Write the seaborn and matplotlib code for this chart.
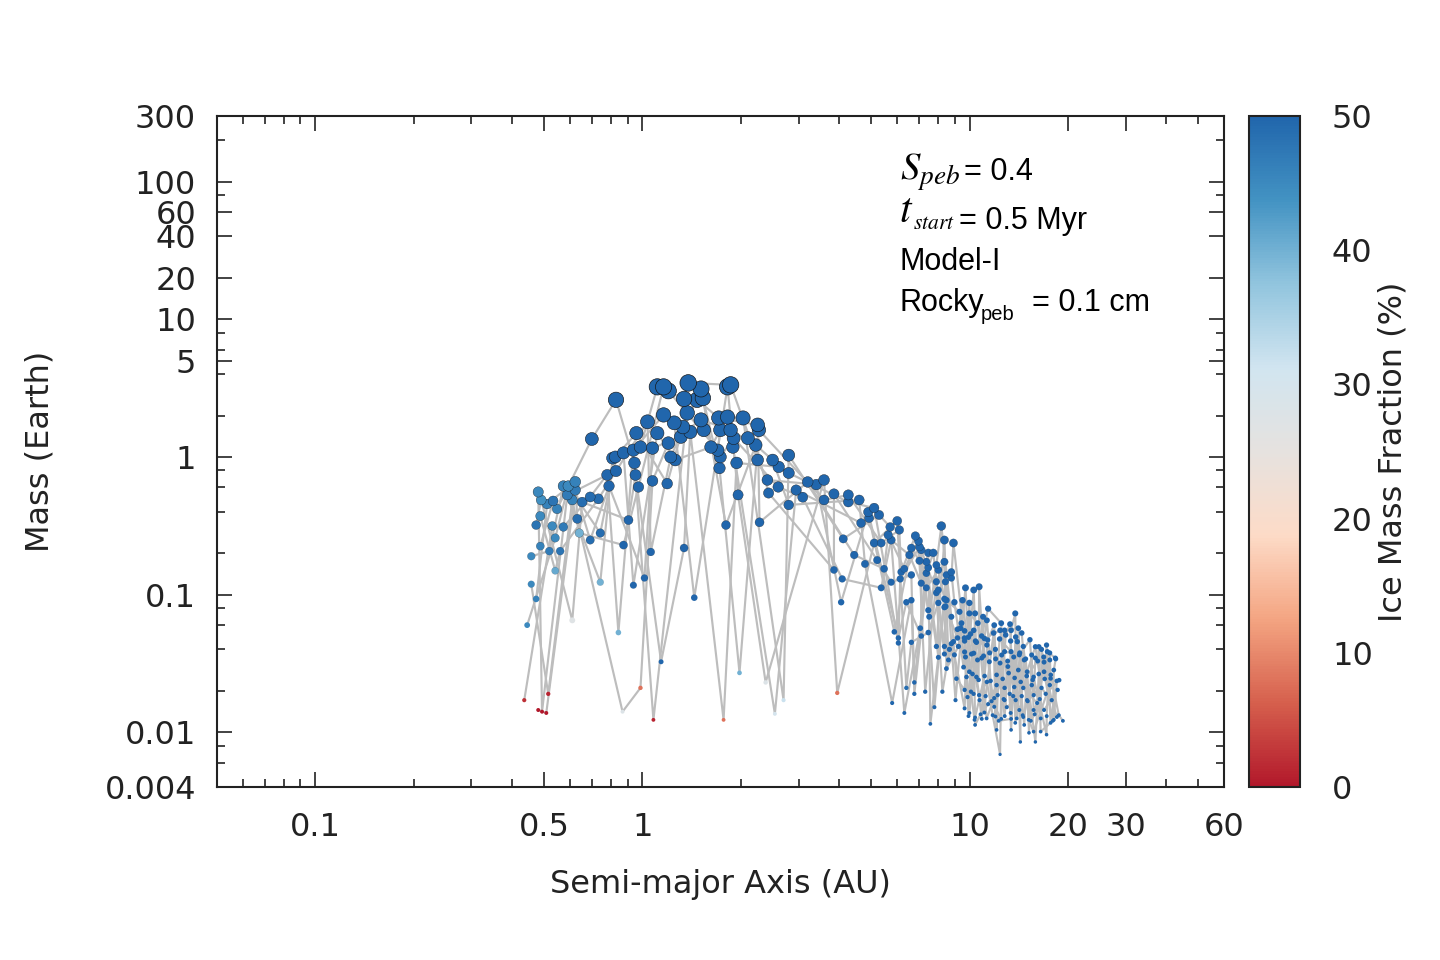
import numpy as np
import pandas as pd
import matplotlib
matplotlib.use("Agg")
import matplotlib.pyplot as plt
import seaborn as sns
from matplotlib.colors import LinearSegmentedColormap, Normalize
from matplotlib.ticker import FixedLocator, FixedFormatter, LogLocator, NullFormatter
import matplotlib.cm as cm

# ---------------- data ----------------
# inner region (0.43 - 0.75 AU)
a_inner = [0.435, 0.444, 0.457, 0.457, 0.473, 0.473, 0.48, 0.48, 0.487, 0.487,
           0.49, 0.493, 0.508, 0.511, 0.515, 0.519, 0.53, 0.533, 0.541, 0.541,
           0.548, 0.56, 0.573, 0.573, 0.589, 0.593, 0.61, 0.61, 0.623, 0.623,
           0.632, 0.641, 0.654, 0.692, 0.692, 0.70, 0.733, 0.743, 0.743]
m_inner = [0.0171, 0.060, 0.19, 0.119, 0.093, 0.32, 0.0145, 0.557, 0.372, 0.225,
           0.487, 0.0141, 0.0138, 0.455, 0.019, 0.207, 0.315, 0.479, 0.258, 0.149,
           0.419, 0.207, 0.31, 0.615, 0.53, 0.615, 0.487, 0.065, 0.66, 0.575,
           0.355, 0.28, 0.47, 0.512, 0.249, 1.35, 0.496, 0.28, 0.123]
ice_inner = [2, 45, 45, 45, 46, 48, 0, 45, 45, 46,
             44, 0, 0, 46, 1, 47, 45, 48, 45, 41,
             46, 48, 47, 46, 47, 45, 46, 27, 46, 47,
             49, 40, 49, 49, 49, 50, 49, 49, 40]

# middle region (0.78 - 1.5 AU)
a_mid = [0.78, 0.79, 0.81, 0.826, 0.83, 0.83, 0.844, 0.869, 0.875, 0.875,
         0.906, 0.938, 0.938, 0.945, 0.952, 0.958, 0.972, 0.986, 0.986, 1.014,
         1.036, 1.06, 1.073, 1.073, 1.08, 1.11, 1.11, 1.14, 1.16, 1.16,
         1.19, 1.20, 1.20, 1.22, 1.25, 1.26, 1.31, 1.33, 1.34, 1.34,
         1.37, 1.38, 1.40, 1.44, 1.47, 1.51, 1.51]
m_mid = [0.74, 0.615, 0.98, 1.0, 0.79, 2.6, 0.053, 0.0141, 1.07, 0.229,
         0.348, 1.12, 0.117, 0.905, 0.74, 1.49, 0.605, 1.18, 0.021, 0.132,
         1.80, 0.204, 1.16, 0.67, 0.0123, 3.23, 1.49, 0.0325, 3.23, 2.02,
         0.64, 3.02, 1.26, 1.0, 1.77, 0.95, 1.40, 1.65, 2.64, 0.218,
         2.09, 3.45, 1.52, 0.095, 2.60, 3.12, 1.86]
ice_mid = [50, 50, 50, 50, 50, 50, 40, 28, 50, 50,
           50, 50, 50, 50, 50, 50, 50, 50, 8, 50,
           50, 50, 50, 50, 1, 50, 50, 50, 50, 50,
           50, 50, 50, 50, 50, 50, 50, 50, 50, 50,
           50, 50, 50, 50, 50, 50, 50]

# belt region (1.5 - 4.7 AU)
a_belt = [1.53, 1.54, 1.62, 1.70, 1.71, 1.72, 1.73, 1.73, 1.77, 1.80,
          1.82, 1.82, 1.86, 1.86, 1.89, 1.90, 1.94, 1.96, 1.98, 2.03,
          2.10, 2.22, 2.25, 2.25, 2.27, 2.28, 2.38, 2.41, 2.43, 2.50,
          2.54, 2.60, 2.61, 2.70, 2.80, 2.80, 2.80, 2.95, 3.09, 3.20,
          3.40, 3.59, 3.59, 3.85, 3.85, 3.94, 4.05, 4.08, 4.11, 4.26,
          4.26, 4.44, 4.60, 4.66]
m_belt = [2.68, 1.57, 1.18, 1.12, 1.92, 0.83, 1.57, 1.0, 0.0123, 0.32,
          3.23, 1.95, 3.34, 1.57, 1.18, 1.37, 0.905, 0.53, 0.027, 1.92,
          1.37, 1.22, 1.71, 0.95, 1.57, 0.335, 0.023, 0.68, 0.547, 0.95,
          0.0136, 0.605, 0.846, 0.0171, 1.03, 0.765, 0.448, 0.575, 0.51, 0.658,
          0.63, 0.68, 0.487, 0.539, 0.151, 0.0193, 0.088, 0.13, 0.254, 0.53,
          0.47, 0.194, 0.487, 0.331]
ice_belt = [50, 50, 50, 50, 50, 50, 50, 50, 8, 50,
            50, 50, 50, 50, 50, 50, 50, 50, 40, 50,
            50, 50, 50, 50, 50, 50, 28, 50, 50, 50,
            30, 50, 50, 32, 50, 50, 50, 50, 50, 50,
            50, 50, 50, 50, 50, 8, 50, 50, 50, 50,
            50, 50, 50, 50]

# outer region (4.8 - 19.3 AU)
a_outer = [4.79, 4.90, 4.93, 5.11, 5.11, 5.22, 5.29, 5.37, 5.37, 5.48,
           5.64, 5.72, 5.76, 5.76, 5.80, 5.89, 6.01, 6.06, 6.06, 6.10,
           6.14, 6.18, 6.32, 6.32, 6.41, 6.41, 6.55, 6.64, 6.64, 6.64,
           6.64, 6.78, 6.78, 6.83, 6.98, 7.03, 7.03, 7.07, 7.12, 7.12,
           7.12, 7.32, 7.38, 7.38, 7.38, 7.48, 7.48, 7.48, 7.48, 7.53,
           7.59, 7.75, 7.81, 7.92, 7.92, 7.92, 7.92, 8.03, 8.03, 8.03,
           8.03, 8.20, 8.26, 8.38, 8.38, 8.38, 8.38, 8.38, 8.38, 8.44,
           8.44, 8.50, 8.50, 8.50, 8.62, 8.68, 8.80, 8.80, 8.80, 8.80,
           8.93, 8.93, 8.99, 8.99, 9.06, 9.12, 9.19, 9.19, 9.25, 9.32,
           9.39, 9.45, 9.52, 9.59, 9.66, 9.66, 9.66, 9.66, 9.66, 9.72,
           9.92, 9.99, 9.99, 9.99, 9.99, 10.1, 10.3, 10.3, 10.3, 10.4,
           10.4, 10.4, 10.5, 10.5, 10.6, 10.7, 10.7, 10.9, 10.9, 11.0,
           11.1, 11.1, 11.3, 11.3, 11.3, 11.4, 11.4, 11.5, 11.9, 11.9,
           11.9, 12.0, 12.0, 12.1, 12.1, 12.4, 12.4, 12.4, 12.5, 12.5,
           12.8, 12.8, 12.8, 12.8, 13.0, 13.1, 13.3, 13.4, 13.4, 13.4,
           13.4, 13.6, 13.7, 13.8, 13.8, 14.0, 14.1, 14.1, 14.2, 14.2,
           14.3, 14.6, 14.6, 14.6, 14.7, 14.7, 15.0, 15.0, 15.2, 15.3,
           15.4, 15.5, 15.7, 15.7, 15.7, 15.9, 15.9, 15.9, 16.1, 16.3,
           16.5, 16.6, 16.6, 16.9, 16.9, 16.9, 17.2, 17.2, 17.3, 17.6,
           17.6, 17.7, 17.7, 18.1, 18.1, 18.3, 18.5, 18.6, 18.8, 19.3]
m_outer = [0.167, 0.398, 0.36, 0.426, 0.237, 0.178, 0.379, 0.237, 0.112, 0.154,
           0.271, 0.31, 0.249, 0.123, 0.0163, 0.0536, 0.343, 0.0484, 0.0445, 0.295,
           0.13, 0.146, 0.154, 0.0138, 0.088, 0.021, 0.194, 0.218, 0.139, 0.091,
           0.045, 0.023, 0.019, 0.267, 0.245, 0.222, 0.176, 0.057, 0.211, 0.121,
           0.05, 0.0197, 0.173, 0.143, 0.112, 0.201, 0.157, 0.077, 0.053, 0.069,
           0.0115, 0.201, 0.0152, 0.164, 0.124, 0.103, 0.042, 0.151, 0.108, 0.087,
           0.035, 0.315, 0.0197, 0.249, 0.173, 0.093, 0.081, 0.042, 0.037, 0.124,
           0.082, 0.139, 0.091, 0.029, 0.0335, 0.04, 0.146, 0.132, 0.069, 0.044,
           0.237, 0.0455, 0.088, 0.0365, 0.0171, 0.0245, 0.056, 0.0484, 0.042, 0.075,
           0.057, 0.062, 0.091, 0.0297, 0.0545, 0.046, 0.0383, 0.0203, 0.0149, 0.112,
           0.049, 0.087, 0.073, 0.0275, 0.0138, 0.0197, 0.108, 0.055, 0.0375, 0.073,
           0.0128, 0.0113, 0.045, 0.0252, 0.062, 0.114, 0.0186, 0.0346, 0.0125, 0.069,
           0.0139, 0.048, 0.065, 0.043, 0.0232, 0.016, 0.079, 0.0325, 0.06, 0.0177,
           0.0153, 0.04, 0.013, 0.0104, 0.022, 0.055, 0.0318, 0.0069, 0.062, 0.0125,
           0.0385, 0.0171, 0.055, 0.021, 0.0152, 0.03, 0.061, 0.055, 0.0385, 0.0125,
           0.0104, 0.0183, 0.0213, 0.073, 0.0117, 0.0455, 0.057, 0.0283, 0.0365, 0.0145,
           0.0085, 0.042, 0.021, 0.0129, 0.0335, 0.0113, 0.0275, 0.0171, 0.0099, 0.047,
           0.0121, 0.022, 0.0252, 0.0145, 0.0101, 0.0418, 0.0346, 0.0085, 0.0163, 0.0418,
           0.0101, 0.04, 0.021, 0.0323, 0.0275, 0.0145, 0.043, 0.0096, 0.0385, 0.0335,
           0.022, 0.0246, 0.0117, 0.0283, 0.0123, 0.0346, 0.0129, 0.0203, 0.0239, 0.0121]
ice_outer = [50, 50, 50, 50, 50, 50, 50, 50, 50, 50,
             50, 50, 50, 50, 50, 50, 50, 50, 50, 50,
             50, 50, 50, 50, 50, 49, 50, 50, 50, 50,
             50, 50, 50, 50, 50, 50, 50, 50, 50, 50,
             50, 50, 50, 50, 50, 50, 50, 50, 50, 50,
             50, 50, 50, 50, 50, 50, 50, 50, 50, 50,
             50, 50, 50, 50, 50, 50, 50, 50, 50, 50,
             50, 50, 50, 50, 50, 50, 50, 50, 50, 50,
             50, 50, 50, 50, 50, 50, 50, 50, 50, 50,
             50, 50, 50, 50, 50, 50, 50, 50, 50, 50,
             50, 50, 50, 50, 50, 50, 50, 50, 50, 50,
             50, 50, 50, 50, 50, 50, 50, 50, 50, 50,
             50, 50, 50, 50, 50, 50, 50, 50, 50, 50,
             50, 50, 50, 50, 50, 50, 50, 50, 50, 50,
             50, 50, 50, 50, 50, 50, 50, 50, 50, 50,
             50, 50, 50, 50, 50, 50, 50, 50, 50, 50,
             50, 50, 50, 50, 50, 50, 50, 50, 50, 50,
             50, 50, 50, 50, 50, 50, 50, 50, 50, 50,
             50, 50, 50, 50, 50, 50, 50, 50, 50, 50,
             50, 50, 50, 50, 50, 50, 50, 50, 50, 50]

# extra planets in the crowded 9.6 - 18.8 AU clump
a_dense = [9.65, 10.07, 10.43, 10.89, 11.36, 11.85, 12.36, 12.90, 13.36, 13.84, 14.44,
           9.72, 10.14, 10.58, 11.04, 11.52, 12.02, 12.54, 13.08, 13.65, 14.24,
           14.85, 15.49, 16.16, 16.86, 17.59, 18.35,
           9.79, 10.21, 10.66, 11.12, 11.60, 12.10, 12.63, 13.17, 13.74, 14.34,
           14.96, 15.60, 16.28, 16.98, 17.72, 18.48,
           9.86, 10.29, 10.73, 11.20, 11.68, 12.19, 12.72, 13.27, 13.84, 14.44,
           15.06, 15.71, 16.39, 17.10, 17.84,
           9.93, 10.36, 10.81, 11.28, 11.77, 12.28, 12.81, 13.36, 13.94, 14.54,
           15.17, 15.82, 16.51, 17.22, 17.97, 18.75]
m_dense = [0.0484, 0.0517, 0.0460, 0.0500, 0.0468, 0.0526, 0.0476, 0.0509, 0.0460, 0.0492, 0.0526,
           0.0352, 0.0370, 0.0335, 0.0358, 0.0377, 0.0341, 0.0364, 0.0329, 0.0352, 0.0377,
           0.0341, 0.0364, 0.0329, 0.0352, 0.0377, 0.0341,
           0.0252, 0.0265, 0.0240, 0.0256, 0.0236, 0.0261, 0.0244, 0.0269, 0.0248, 0.0232,
           0.0256, 0.0240, 0.0265, 0.0244, 0.0261, 0.0236,
           0.0180, 0.0190, 0.0171, 0.0183, 0.0168, 0.0186, 0.0174, 0.0190, 0.0171, 0.0183,
           0.0168, 0.0186, 0.0174, 0.0190, 0.0171,
           0.0131, 0.0123, 0.0135, 0.0126, 0.0133, 0.0121, 0.0131, 0.0138, 0.0126, 0.0133,
           0.0123, 0.0135, 0.0126, 0.0131, 0.0121, 0.0133]
ice_dense = [50, 50, 50, 50, 50, 50, 50, 50, 50, 50, 50,
             50, 50, 50, 50, 50, 50, 50, 50, 50, 50,
             50, 50, 50, 50, 50, 50,
             50, 50, 50, 50, 50, 50, 50, 50, 50, 50,
             50, 50, 50, 50, 50, 50,
             50, 50, 50, 50, 50, 50, 50, 50, 50, 50,
             50, 50, 50, 50, 50,
             50, 50, 50, 50, 50, 50, 50, 50, 50, 50,
             50, 50, 50, 50, 50, 50]

# simulation (system) each planet belongs to, in the same order as above
sim = [0, 3, 6, 9, 2, 5, 8, 1, 4, 7,
       5, 1, 8, 2, 9, 6, 0, 7, 3, 4,
       7, 4, 0, 6, 1, 3, 9, 5, 2, 8,
       2, 9, 5, 0, 8, 7, 4, 3, 6, 1,
       8, 6, 3, 4, 7, 1, 2, 0, 9, 5,
       1, 0, 7, 5, 3, 9, 6, 2, 8, 4,
       4, 8, 2, 7, 6, 0, 5, 9, 1, 3,
       9, 2, 4, 1, 0, 8, 3, 6, 5, 7,
       6, 5, 1, 3, 4, 2, 7, 8, 0, 9,
       3, 7, 9, 8, 5, 4, 1, 0, 6, 2,
       2, 8, 5, 1, 7, 0, 9, 4, 3, 6,
       7, 3, 1, 6, 4, 9, 2, 8, 5, 0,
       0, 5, 9, 2, 8, 3, 6, 1, 7, 4,
       4, 1, 6, 8, 0, 7, 5, 3, 9, 2,
       9, 6, 2, 5, 1, 4, 0, 7, 8, 3,
       3, 0, 8, 4, 9, 2, 1, 6, 5, 7,
       5, 7, 3, 0, 6, 1, 8, 2, 4, 9,
       1, 9, 4, 7, 3, 5, 2, 0, 6, 8,
       6, 2, 0, 9, 5, 8, 4, 7, 1, 3,
       8, 4, 7, 3, 2, 6, 9, 5, 0, 1,
       0, 3, 6, 9, 2, 5, 8, 1, 4, 7,
       5, 1, 8, 2, 9, 6, 0, 7, 3, 4,
       7, 4, 0, 6, 1, 3, 9, 5, 2, 8,
       2, 9, 5, 0, 8, 7, 4, 3, 6, 1,
       8, 6, 3, 4, 7, 1, 2, 0, 9, 5,
       1, 0, 7, 5, 3, 9, 6, 2, 8, 4,
       4, 8, 2, 7, 6, 0, 5, 9, 1, 3,
       9, 2, 4, 1, 0, 8, 3, 6, 5, 7,
       6, 5, 1, 3, 4, 2, 7, 8, 0, 9,
       3, 7, 9, 8, 5, 4, 1, 0, 6, 2,
       2, 8, 5, 1, 7, 0, 9, 4, 3, 6,
       7, 3, 1, 6, 4, 9, 2, 8, 5, 0,
       0, 5, 9, 2, 8, 3, 6, 1, 7, 4,
       4, 1, 6, 8, 0, 7, 5, 3, 9, 2,
       # dense clump
       9, 6, 2, 5, 1, 4, 0, 7, 8, 3,
       3, 0, 8, 4, 9, 2, 1, 6, 5, 7,
       5, 7, 3, 0, 6, 1, 8, 2, 4, 9,
       1, 9, 4, 7, 3, 5, 2, 0, 6, 8,
       6, 2, 0, 9, 5, 8, 4, 7, 1, 3,
       8, 4, 7, 3, 2, 6, 9, 5, 0, 1,
       0, 3, 6, 9, 2, 5, 8, 1, 4, 7,
       5, 1, 8, 2]

x_ticks = [0.1, 0.5, 1, 10, 20, 30, 60]
x_ticklabels = ["0.1", "0.5", "1", "10", "20", "30", "60"]
y_ticks = [0.004, 0.01, 0.1, 1, 5, 10, 20, 40, 60, 100, 300]
y_ticklabels = ["0.004", "0.01", "0.1", "1", "5", "10", "20", "40", "60", "100", "300"]
cb_ticks = [0, 10, 20, 30, 40, 50]

# ---------------- assemble ----------------
a_all = np.array(a_inner + a_mid + a_belt + a_outer + a_dense, dtype=float)
m_all = np.array(m_inner + m_mid + m_belt + m_outer + m_dense, dtype=float)
ice_all = np.array(ice_inner + ice_mid + ice_belt + ice_outer + ice_dense, dtype=float)
assert len(a_all) == len(m_all) == len(ice_all) == len(sim), (len(a_all), len(m_all), len(ice_all), len(sim))
df = pd.DataFrame({"a": a_all, "m": m_all, "ice": ice_all, "sim": np.array(sim)})

diam_px = 12.0 * df["m"] ** 0.26
df["area"] = (diam_px * 0.72) ** 2
df["lw"] = np.clip(0.32 + 0.3 * np.log10(df["m"]), 0.0, 0.65)

cmap = LinearSegmentedColormap.from_list(
    "rdbu9", ["#b2182b", "#d6604d", "#f4a582", "#fddbc7", "#e6e2df",
              "#d1e5f0", "#92c5de", "#4393c3", "#2166ac"])
norm = Normalize(vmin=0, vmax=50)

sns.set_style("white")
plt.rcParams["font.family"] = ["DejaVu Sans"]
plt.rcParams["axes.unicode_minus"] = False

W, H = 1440, 960
fig = plt.figure(figsize=(W / 100, H / 100), dpi=100)
ax = fig.add_axes([217 / W, 1 - 787 / H, 1007 / W, 671 / H])
ax.set_xscale("log")
ax.set_yscale("log")

sns.lineplot(data=df, x="a", y="m", units="sim", estimator=None, sort=True,
             color="#bdbdbd", linewidth=1.55, ax=ax, legend=False, zorder=1)

dfs = df.sort_values("m", kind="stable").reset_index(drop=True)
sns.scatterplot(data=dfs, x="a", y="m", hue="ice", palette=cmap, hue_norm=norm,
                legend=False, ax=ax, zorder=3, edgecolor="#111111", s=20)
pts = ax.collections[-1]
pts.set_sizes(dfs["area"].values)
pts.set_linewidths(dfs["lw"].values)
pts.set_edgecolor("#141414")

ax.set_xlim(0.05, 60)
ax.set_ylim(0.004, 300)

ax.xaxis.set_major_locator(FixedLocator(x_ticks))
ax.xaxis.set_major_formatter(FixedFormatter(x_ticklabels))
ax.xaxis.set_minor_locator(LogLocator(base=10, subs=(2, 3, 4, 5, 6, 7, 8, 9), numticks=20))
ax.xaxis.set_minor_formatter(NullFormatter())
ax.yaxis.set_major_locator(FixedLocator(y_ticks))
ax.yaxis.set_major_formatter(FixedFormatter(y_ticklabels))
ax.yaxis.set_minor_locator(LogLocator(base=10, subs=(2, 4, 6, 8), numticks=20))
ax.yaxis.set_minor_formatter(NullFormatter())

dark = "#222222"
fs = 23
for sp in ax.spines.values():
    sp.set_linewidth(1.5)
    sp.set_color(dark)
ax.tick_params(which="both", direction="in", top=True, right=True, bottom=True, left=True,
               color=dark, labelcolor=dark)
ax.tick_params(which="major", length=11, width=1.2, labelsize=fs)
ax.tick_params(which="minor", length=5.5, width=1.2)
ax.tick_params(axis="x", which="major", pad=18)
ax.tick_params(axis="y", which="major", pad=15)

ax.set_xlabel("Semi-major Axis (AU)", fontsize=fs, color=dark)
ax.set_ylabel("Mass (Earth)", fontsize=fs, color=dark)
ax.xaxis.label.set_va("center")
ax.xaxis.set_label_coords(0.5, (787 - 885) / 671)
ax.yaxis.label.set_va("center")
ax.yaxis.set_label_coords((40 - 217) / 1007, 0.5)

# colorbar
cax = fig.add_axes([1249 / W, 1 - 787 / H, 51 / W, 671 / H])
sm = cm.ScalarMappable(norm=norm, cmap=cmap)
cb = fig.colorbar(sm, cax=cax, ticks=cb_ticks)
cb.outline.set_linewidth(1.5)
cb.outline.set_edgecolor(dark)
cax.tick_params(axis="y", which="major", direction="in", left=True, right=True,
                length=12, width=1.3, color=dark, labelcolor=dark, labelsize=fs, pad=23)
cax.minorticks_off()
cb.set_label("Ice Mass Fraction (%)", fontsize=fs, color=dark)
cax.yaxis.label.set_va("center")
cax.yaxis.set_label_coords((1393 - 1249) / 51, 0.5)

# annotations
def T(px, py, s, **kw):
    fig.text(px / W, 1 - py / H, s, ha="left", va="baseline", color="black", **kw)

sans = ["Liberation Sans", "DejaVu Sans"]
afs = 22
T(900, 180, r"$S_{peb}$", fontsize=28, math_fontfamily="stix")
T(964, 180, "= 0.4", fontsize=afs, family=sans)
T(899, 222, r"$t$", fontsize=30, math_fontfamily="stix")
T(913, 229, r"$start$", fontsize=15.5, math_fontfamily="stix")
T(959, 229, "= 0.5 Myr", fontsize=afs, family=sans)
T(900, 270, "Model-I", fontsize=afs, family=sans)
T(900, 311, "Rocky", fontsize=afs, family=sans)
T(981, 320, "peb", fontsize=14.5, family=sans)
T(1032, 311, "= 0.1 cm", fontsize=afs, family=sans)

fig.savefig("out.png", dpi=100)
